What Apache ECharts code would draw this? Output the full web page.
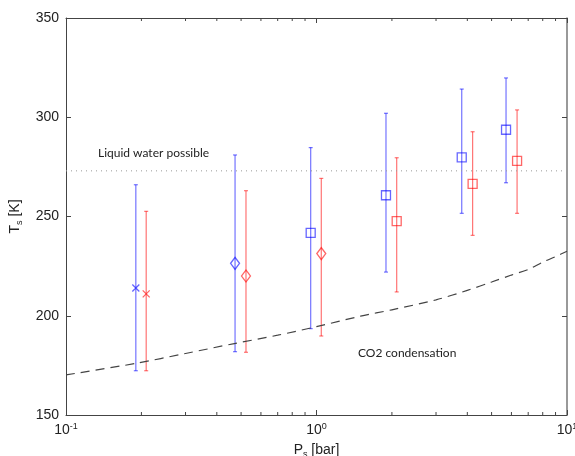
<!DOCTYPE html>
<html>
<head>
<meta charset="utf-8">
<script src="https://cdn.jsdelivr.net/npm/echarts@6/dist/echarts.min.js"></script>
<style>
  html, body { margin: 0; padding: 0; background: #fff; }
  #chart { width: 575px; height: 456px; }
</style>
</head>
<body>
<div id="chart"></div>
<script>
// blue runs
const pBlue = [0.19, 0.473, 0.948, 1.894, 3.80, 5.71];
const tBlue = [214, 226.4, 241.8, 260.7, 279.8, 293.7];
const lowBlue = [172.3, 181.9, 193.5, 222, 251.6, 267];
const highBlue = [266, 281, 284.7, 302, 314.2, 319.8];
const symBlue = ['x', 'diamond', 'square', 'square', 'square', 'square'];

// red runs
const pRed = [0.209, 0.523, 1.045, 2.09, 4.20, 6.32];
const tRed = [211, 220, 231.3, 247.7, 266.4, 278];
const lowRed = [172.3, 181.6, 189.8, 212, 240.5, 251.6];
const highRed = [252.6, 263, 269.2, 279.6, 292.7, 303.7];
const symRed = ['x', 'diamond', 'diamond', 'square', 'square', 'square'];

// CO2 condensation curve
const pCurve = [0.1, 0.19, 0.3, 0.47, 0.7, 1.0, 1.5, 2.0, 3.0, 4.0, 5.0, 6.0, 7.0, 8.0, 9.0, 10];
const tCurve = [170.2, 176, 181, 186, 190.2, 194.5, 199.8, 203, 208, 212.8, 217, 220.5, 223.3, 227, 229.8, 232.5];

// liquid water line
const pWater = [0.1, 10];
const tWater = [273, 273];

const yTicks = [150, 200, 250, 300, 350];
const minorP = [0.2, 0.3, 0.4, 0.5, 0.6, 0.7, 0.8, 0.9, 2, 3, 4, 5, 6, 7, 8, 9];

const BLUE = 'rgba(0,0,255,0.55)';
const RED = 'rgba(255,0,0,0.55)';
const AXIS = '#444';

const symbolPaths = {
  x: 'path://M0,0L10,10M0,10L10,0',
  diamond: 'path://M5,0L10,6L5,12L0,6Z',
  square: 'path://M0,0L10,0L10,10L0,10Z'
};
const symbolSizes = { x: [7, 7], diamond: [9, 12], square: [9, 9] };

const chart = echarts.init(document.getElementById('chart'));

function errBars(p, low, high) {
  return p.map((v, i) => [v, low[i], high[i]]);
}

function errRender(color) {
  return function (params, api) {
    const top = api.coord([api.value(0), api.value(2)]);
    const bot = api.coord([api.value(0), api.value(1)]);
    const w = 2;
    const st = { stroke: color, lineWidth: 1.2 };
    return {
      type: 'group',
      children: [
        { type: 'line', shape: { x1: top[0], y1: top[1], x2: bot[0], y2: bot[1] }, style: st },
        { type: 'line', shape: { x1: top[0] - w, y1: top[1], x2: top[0] + w, y2: top[1] }, style: st },
        { type: 'line', shape: { x1: bot[0] - w, y1: bot[1], x2: bot[0] + w, y2: bot[1] }, style: st }
      ]
    };
  };
}

function markers(p, t, syms) {
  return p.map((v, i) => ({
    value: [v, t[i]],
    symbol: symbolPaths[syms[i]],
    symbolSize: symbolSizes[syms[i]]
  }));
}

const supRich = {
  b: { fontFamily: 'Liberation Sans', fontSize: 14, color: '#222' },
  s: { fontFamily: 'Liberation Sans', fontSize: 9, color: '#222', verticalAlign: 'top', padding: [0, 0, 8, 0] }
};
const nameRich = {
  a: { fontFamily: 'Liberation Sans', fontSize: 14, color: '#222' },
  s: { fontFamily: 'Liberation Sans', fontSize: 9, color: '#222', verticalAlign: 'bottom', padding: [8, 0, 0, 0] }
};

chart.setOption({
  animation: false,
  backgroundColor: '#fff',
  grid: { left: 66, right: 8, top: 18, bottom: 41, outerBoundsMode: 'none' },
  xAxis: [
    {
      type: 'log', logBase: 10, min: 0.1, max: 10,
      name: '{a|P}{s|s}{a| [bar]}',
      nameLocation: 'middle', nameGap: 27,
      nameTextStyle: { rich: nameRich },
      axisLine: { show: true, lineStyle: { color: AXIS } },
      axisTick: { inside: true, length: 5, lineStyle: { color: AXIS } },
      axisLabel: {
        margin: 7,
        formatter: v => '{b|10}{s|' + Math.round(Math.log10(v)) + '}',
        rich: supRich
      },
      splitLine: { show: false }
    },
    {
      type: 'log', logBase: 10, min: 0.1, max: 10, position: 'top',
      axisLine: { show: true, lineStyle: { color: AXIS } },
      axisTick: { inside: true, length: 5, lineStyle: { color: AXIS } },
      axisLabel: { show: false },
      splitLine: { show: false }
    }
  ],
  yAxis: [
    {
      type: 'value', min: 150, max: 350, interval: 50,
      name: '{a|T}{s|s}{a| [K]}',
      nameLocation: 'middle', nameGap: 42, nameRotate: 90,
      nameTextStyle: { rich: nameRich },
      axisLine: { show: true, lineStyle: { color: AXIS } },
      axisTick: { inside: true, length: 5, lineStyle: { color: AXIS } },
      axisLabel: {
        margin: 7, fontFamily: 'Liberation Sans', fontSize: 14, color: '#222',
        customValues: yTicks
      },
      splitLine: { show: false }
    },
    {
      type: 'value', min: 150, max: 350, interval: 50, position: 'right',
      axisLine: { show: true, lineStyle: { color: '#777', width: 1.5 } },
      axisTick: { inside: true, length: 5, lineStyle: { color: AXIS } },
      axisLabel: { show: false },
      splitLine: { show: false }
    }
  ],
  graphic: [
    { type: 'text', left: 98, top: 147, style: { text: 'Liquid water possible', font: '12px Lato', fill: '#222' } },
    { type: 'text', left: 358, top: 347, style: { text: 'CO2 condensation', font: '12px Lato', fill: '#222' } }
  ],
  series: [
    {
      type: 'custom', silent: true, z: 1, clip: false,
      data: minorP.map(v => [v, 150]),
      renderItem: function (params, api) {
        const b = api.coord([api.value(0), 150]);
        const t = api.coord([api.value(0), 350]);
        const st = { stroke: AXIS, lineWidth: 1 };
        return {
          type: 'group',
          children: [
            { type: 'line', shape: { x1: b[0], y1: b[1], x2: b[0], y2: b[1] - 3 }, style: st },
            { type: 'line', shape: { x1: t[0], y1: t[1], x2: t[0], y2: t[1] + 3 }, style: st }
          ]
        };
      }
    },
    {
      type: 'line', silent: true, symbol: 'none',
      data: pWater.map((v, i) => [v, tWater[i]]),
      lineStyle: { color: '#999', width: 1, type: [1, 4] }
    },
    {
      type: 'line', silent: true, symbol: 'none', smooth: 0.3,
      data: pCurve.map((v, i) => [v, tCurve[i]]),
      lineStyle: { color: '#444', width: 1.2, type: [9, 6] }
    },
    { type: 'custom', silent: true, z: 3, data: errBars(pBlue, lowBlue, highBlue), renderItem: errRender(BLUE) },
    { type: 'custom', silent: true, z: 3, data: errBars(pRed, lowRed, highRed), renderItem: errRender(RED) },
    {
      type: 'scatter', silent: true, z: 4,
      data: markers(pBlue, tBlue, symBlue),
      itemStyle: { color: 'rgba(255,255,255,0)', borderColor: 'rgba(0,0,255,0.75)', borderWidth: 1.3 }
    },
    {
      type: 'scatter', silent: true, z: 4,
      data: markers(pRed, tRed, symRed),
      itemStyle: { color: 'rgba(255,255,255,0)', borderColor: 'rgba(255,0,0,0.75)', borderWidth: 1.3 }
    }
  ]
});
</script>
</body>
</html>
